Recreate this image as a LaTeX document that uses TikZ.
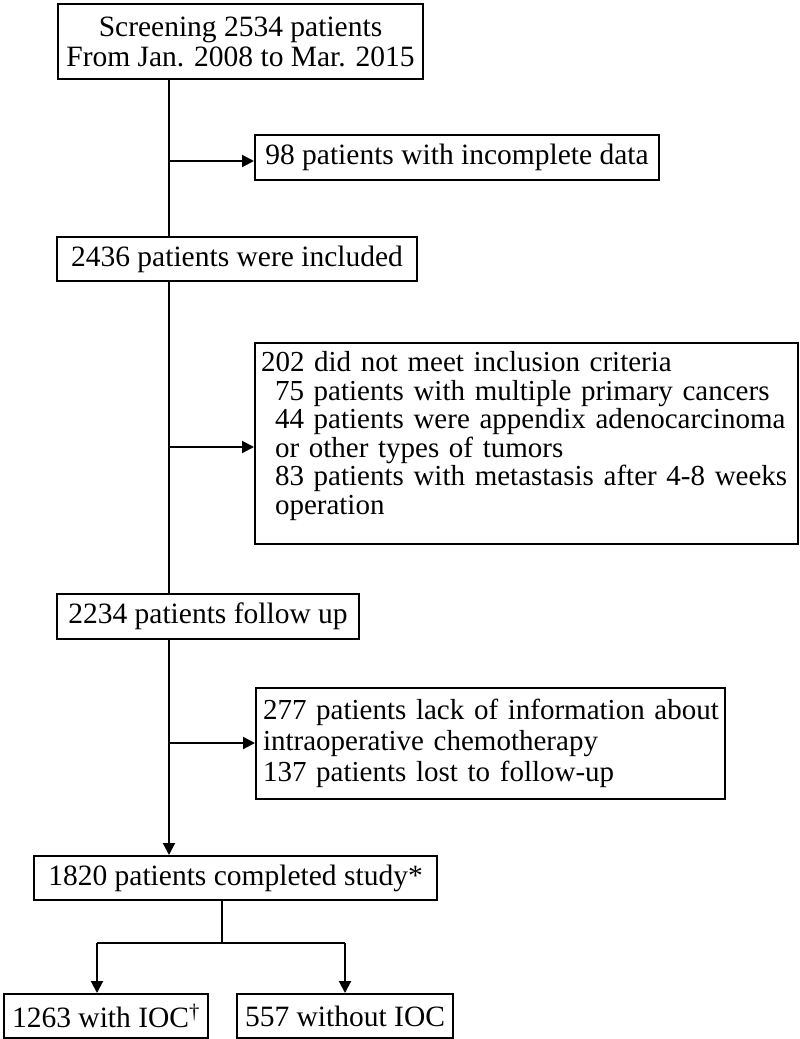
\documentclass[tikz,border=0pt]{standalone}
\usepackage{fontspec}
\setmainfont{Liberation Serif}
\usetikzlibrary{arrows.meta}
\begin{document}
\begin{tikzpicture}[x=1pt,y=-1pt,
  box/.style={draw, line width=2pt, rectangle, anchor=north west, inner sep=0pt,
    font=\fontsize{29.5}{30}\selectfont},
  cbox/.style={box, align=center},
  lbox/.style={box, align=left},
  conn/.style={line width=2pt},
  arr/.style={conn, -{Triangle[length=12pt,width=12pt]}}]
\useasboundingbox (0,0) rectangle (800,1039);

\node[cbox, minimum width=365pt, minimum height=75pt] (screen) at (57,3)
  {Screening 2534 patients\\From Jan. 2008 to Mar. 2015};
\node[cbox, minimum width=404pt, minimum height=45pt] (incomplete) at (254,134)
  {98 patients with incomplete data};
\node[cbox, minimum width=360pt, minimum height=44pt] (included) at (56,236)
  {2436 patients were included};
\node[lbox, minimum width=543pt, minimum height=201pt, text width=531pt, inner xsep=6pt,
  font=\fontsize{29}{28.5}\selectfont] (criteria) at (254,342)
  {\mbox{202 did not meet inclusion criteria}\\
   \mbox{\hspace*{14pt}75 patients with multiple primary cancers}\\
   \mbox{\hspace*{14pt}44 patients were appendix adenocarcinoma}\\
   \mbox{\hspace*{14pt}or other types of tumors}\\
   \mbox{\hspace*{14pt}83 patients with metastasis after 4-8 weeks}\\
   \mbox{\hspace*{14pt}operation\rule[-21pt]{0pt}{21pt}}};
\node[cbox, minimum width=302pt, minimum height=45pt] (followup) at (56,593)
  {2234 patients follow up};
\node[lbox, minimum width=469pt, minimum height=111pt, text width=455pt, inner xsep=7pt,
  font=\fontsize{29}{31}\selectfont] (lost) at (255,687)
  {\mbox{277 patients lack of information about}\\
   \mbox{intraoperative chemotherapy}\\
   \mbox{137 patients lost to follow-up}};
\node[cbox, minimum width=403pt, minimum height=44pt] (completed) at (33,855)
  {1820 patients completed study*};
\node[cbox, minimum width=204pt, minimum height=44pt] (withioc) at (3,993)
  {1263 with IOC\textsuperscript{\textdagger}};
\node[cbox, minimum width=216pt, minimum height=44pt] (withoutioc) at (236,993)
  {557 without IOC};

\coordinate (tx) at (169,0);
\coordinate (b1) at (169,161);
\coordinate (b2) at (169,447);
\coordinate (b3) at (169,743);
\coordinate (sx) at (222,0);
\coordinate (sy) at (0,943);
\coordinate (lx) at (97,0);
\coordinate (rx) at (345,0);

\draw[conn] (tx |- screen.south) -- (tx |- included.north);
\draw[conn] (tx |- included.south) -- (tx |- followup.north);
\draw[arr] (tx |- followup.south) -- (tx |- completed.north);
\draw[arr] (b1) -- (b1 -| incomplete.west);
\draw[arr] (b2) -- (b2 -| criteria.west);
\draw[arr] (b3) -- (b3 -| lost.west);
\draw[conn] (sx |- completed.south) -- (sx |- sy);
\draw[conn] (lx |- sy) -- (rx |- sy);
\draw[arr] (lx |- sy) -- (lx |- withioc.north);
\draw[arr] (rx |- sy) -- (rx |- withoutioc.north);
\end{tikzpicture}
\end{document}
